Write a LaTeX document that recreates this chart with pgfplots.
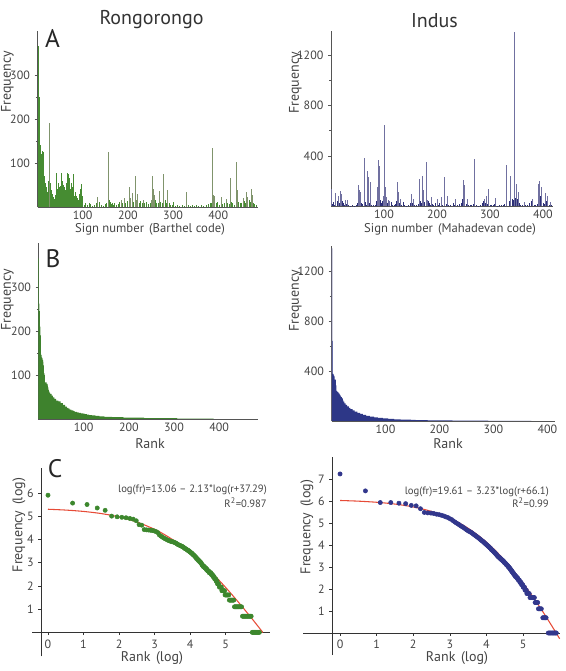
\documentclass[border=0pt]{standalone}
\usepackage{pgfplots}
\pgfplotsset{compat=1.18}
\usepackage{fontspec}
\setmainfont{PT Sans}
\definecolor{txtgray}{HTML}{444444}
\definecolor{titlegray}{HTML}{333333}
\definecolor{axisgray}{HTML}{555555}
\definecolor{axisdark}{HTML}{333333}
\definecolor{gbar}{RGB}{70,140,50}
\definecolor{obar}{RGB}{128,148,108}
\definecolor{nbar}{RGB}{45,48,120}
\definecolor{vbar}{RGB}{112,112,160}
\definecolor{gfill}{RGB}{62,130,45}
\definecolor{nfill}{RGB}{45,55,135}
\definecolor{gdot}{RGB}{60,135,45}
\definecolor{bdot}{RGB}{50,55,140}
\definecolor{fitred}{RGB}{230,75,55}
\newcommand{\lp}{\hspace{0.4em}(}
\newcommand{\rp}{)\hspace{0.4em}}
\pgfplotsset{
  panelAB/.style={
    scale only axis, anchor=south west,
    axis lines=left, axis line style={-, draw=axisgray, line width=0.6pt},
    tick align=outside, major tick length=2.2pt, minor tick length=1.3pt,
    ytick style={draw=axisgray, line width=0.5pt},
    xtick style={draw=none},
    minor y tick num=1,
    tick label style={font=\fontsize{9}{10}\selectfont, text=txtgray},
    xticklabel style={yshift=3pt},
    /pgf/number format/assume math mode=true,
    /pgf/number format/set thousands separator={},
    ymin=0, xtick={100,200,300,400},
  },
  panelC/.style={
    scale only axis, anchor=south west, clip=false,
    axis x line=middle, axis y line=left,
    axis line style={-, draw=axisdark, line width=0.6pt},
    tick align=outside, major tick length=2pt,
    tick style={draw=axisdark, line width=0.5pt},
    tick label style={font=\fontsize{9}{10}\selectfont, text=txtgray},
    /pgf/number format/assume math mode=true,
    xtick={0,1,2,3,4,5},
  },
}
\begin{document}
\begin{tikzpicture}[x=0.75pt,y=0.75pt]
\useasboundingbox (0,0) rectangle (566,671);

% ---------------- Panel A left (Rongorongo) ----------------
\begin{axis}[panelAB, at={(28.125pt,348pt)}, width=165.375pt, height=132pt,
  xmin=0, xmax=488, ymax=400, ytick={100,200,300}]
\addplot[ycomb, draw=gbar, line width=0.55pt, mark=none] coordinates {
(1,365)(2,300)(3,255)(4,250)(5,150)(6,135)(7,140)(8,120)(9,110)(10,128)
(11,95)(12,126)(13,60)(14,85)(15,40)(16,70)(17,55)(18,30)(19,45)(20,20)
(21,35)(22,15)(23,25)(24,60)(25,40)(27,30)(28,55)(29,35)(30,20)
(31,38)(32,25)(33,15)(34,30)(35,10)(36,22)(37,18)(38,12)(39,28)(40,20)
(41,45)(42,77)(43,30)(44,25)(45,40)(46,35)(47,55)(48,20)(49,45)(50,30)
(51,48)(52,25)(53,77)(54,60)(55,40)(56,35)(57,50)(58,20)(59,30)(60,45)
(61,25)(62,38)(63,55)(64,30)(65,40)(66,60)(67,77)(68,50)(69,75)(70,45)
(71,65)(72,30)(73,40)(74,55)(75,25)(76,35)(77,45)(78,20)(79,75)(80,30)
(81,25)(82,20)(83,35)(84,15)(85,25)(86,12)(87,18)(88,10)(89,20)(90,8)
(91,15)(92,30)(93,20)(94,40)(95,12)(96,35)(97,10)(98,52)(99,25)(100,8)
(103,5)(106,8)(110,4)(114,10)(118,6)(122,3)(126,5)(130,8)(137,12)(141,5)
(145,3)(150,6)(153,10)(158,15)(160,8)(162,12)(164,6)(166,10)(168,5)(171,8)
(174,4)(178,6)(182,12)(188,8)(195,10)(199,14)(212,12)(225,10)(228,14)(231,8)
(237,10)(241,12)(245,6)(249,8)(261,15)(264,10)(267,8)(273,12)(276,10)(282,15)
(285,8)(291,10)(295,5)(298,4)(301,12)(305,3)(310,4)(315,3)(320,5)(325,3)
(333,4)(338,3)(342,5)(347,3)(352,4)(357,3)(362,5)(368,3)(373,4)(378,6)
(382,8)(385,10)(395,8)(398,12)(402,5)(410,6)(413,10)(421,8)(424,6)(429,12)
(432,10)(435,5)(445,12)(448,8)(452,10)(458,14)(461,8)(468,15)(471,12)(478,10)
(481,6)(484,4)
};
\addplot[ycomb, draw=obar, line width=0.5pt, mark=none] coordinates {
(26,192)(133,22)(156,125)(185,15)(192,20)(203,45)(206,20)(209,32)(216,70)(219,15)
(222,30)(234,15)(252,15)(255,70)(257,42)(259,28)(270,37)(279,75)(288,38)(329,35)
(387,133)(390,28)(392,25)(406,22)(417,18)(426,67)(439,103)(442,38)(455,20)(463,33)
(465,22)(474,42)(476,27)
};
\end{axis}

% ---------------- Panel A right (Indus) ----------------
\begin{axis}[panelAB, at={(248.25pt,348.375pt)}, width=166.125pt, height=131.625pt,
  xmin=0, xmax=418, ymax=1390, ytick={400,800,1200}]
\addplot[ycomb, draw=nbar, line width=0.5pt, mark=none] coordinates {
(3,20)(5,35)(7,15)(11,40)(15,30)(21,45)(23,25)(25,10)(29,20)(33,8)
(36,5)(40,10)(44,6)(47,12)(49,26)(55,45)(58,30)(60,20)(64,38)(66,15)
(69,60)(73,28)(77,12)(80,8)(83,15)(86,40)(88,22)(93,50)(95,30)(97,40)
(100,70)(102,95)(105,45)(106,30)(109,20)(113,35)(116,15)(119,8)(122,20)(124,45)
(128,30)(130,20)(133,15)(136,34)(139,10)(142,6)(146,8)(149,25)(151,40)(154,30)
(158,12)(161,8)(164,20)(168,40)(170,30)(173,45)(177,38)(180,30)(183,40)(185,25)
(187,15)(191,20)(194,12)(197,30)(202,10)(205,25)(210,12)(213,30)(217,20)(222,15)
(226,8)(230,25)(233,10)(238,12)(242,20)(245,30)(248,60)(252,40)(255,20)(259,15)
(262,8)(265,10)(268,20)(274,12)(278,6)(282,10)(285,25)(288,40)(291,30)(295,20)
(300,15)(303,8)(306,10)(309,20)(314,6)(318,10)(322,15)(325,8)(328,20)(331,45)
(336,40)(338,30)(343,60)(345,50)(347,70)(351,60)(355,30)(358,15)(361,10)(367,8)
(371,10)(375,25)(378,40)(383,10)(386,8)(389,20)(391,40)(393,60)(395,80)(397,70)
(400,30)(403,20)(406,45)(409,25)(412,12)(415,8)
};
\addplot[ycomb, draw=vbar, line width=0.5pt, mark=none] coordinates {
(1,135)(9,106)(13,87)(17,122)(19,100)(27,55)(31,50)(51,167)(53,132)(56,114)
(62,381)(68,278)(70,233)(71,74)(75,193)(87,154)(89,366)(91,318)(99,87)(101,644)
(103,154)(104,74)(108,48)(111,42)(125,193)(127,114)(131,61)(152,100)(155,61)(166,215)
(172,241)(175,127)(179,352)(181,48)(189,74)(200,61)(208,74)(214,230)(219,87)(235,56)
(249,210)(252,172)(257,61)(270,375)(290,61)(293,87)(297,142)(311,69)(331,329)(339,241)
(346,1385)(349,180)(353,114)(364,34)(380,61)(392,180)(394,205)(396,154)(405,104)(408,87)
(413,34)
};
\end{axis}

% ---------------- Panel B left ----------------
\begin{axis}[panelAB, at={(28.875pt,189pt)}, width=164.625pt, height=132pt,
  xmin=0, xmax=486, ymax=400, ytick={100,200,300}]
\addplot[const plot, fill=gfill, draw=none, mark=none] coordinates {
(0,365)(1,262)(2,245)(3,210)(4,190)(5,148)(6,145)(7,140)(8,138)(9,134)
(10,130)(11,122)(12,104)(13,100)(14,83)(18,80)(20,76)(21,72)(22,66)(23,63)
(24,60)(26,57)(29,53)(32,49)(35,46)(39,42)(44,40)(49,36)(54,32)(59,28)
(63,25)(66,23.8)(69,21.5)(73,19.7)(77,18)(80,16.4)(85,15)(89,14)(94,13)(99,12)
(102,11)(107,10)(112,9)(118,8)(126,7)(135,6)(146,5)(163,4)(188,3)(234,2)
(307,1)(388,1)
} \closedcycle;
\end{axis}

% ---------------- Panel B right ----------------
\begin{axis}[panelAB, at={(248.625pt,187.5pt)}, width=167.625pt, height=131.25pt,
  xmin=0, xmax=414, ymax=1400, ytick={400,800,1200}]
\addplot[const plot, fill=vbar, draw=none, mark=none] coordinates {
(0,1380)(1.6,0)
} \closedcycle;
\addplot[const plot, fill=nfill, draw=none, mark=none] coordinates {
(1,640)(2,376)(4,365)(5,357)(6,330)(8,284)(9,240)(10,235)(12,228)
(13,221)(14,218)(15,211)(16,204)(17,196)(18,190)(19,181)(21,165)(22,155)(24,141)
(26,128)(29,116)(32,105)(35,95)(39,84)(43,74)(48,64)(53,56)(58,48)(64,40)
(71,34)(79,29)(86,24)(95,20)(105,16.8)(116,13.7)(128,11)(140,10)(147,9)(150,8)
(156,7)(164,6)(178,5)(204,4)(224,3)(250,2)(290,1)(370,1)
} \closedcycle;
\end{axis}

% ---------------- Panel C left ----------------
\begin{axis}[panelC, at={(30.75pt,11.025pt)}, width=171.75pt, height=141.225pt,
  xmin=-0.197, xmax=6.25, ymin=-1.03, ymax=7.07, ytick={1,2,3,4,5,6}]
\draw[axisdark, line width=0.6pt] (axis cs:-0.45,0) -- (axis cs:-0.197,0);
\addplot[only marks, mark=*, mark size=1.6pt, color=gdot] coordinates {
(0,5.90)(0.693,5.56)(1.099,5.50)(1.386,5.35)(1.609,5.25)(1.792,5.00)(1.946,4.97)(2.079,4.95)
(2.197,4.93)(2.303,4.90)(2.398,4.87)(2.485,4.80)(2.565,4.63)(2.639,4.61)(2.708,4.42)(2.773,4.41)
(2.833,4.40)(2.890,4.39)(2.944,4.38)(2.996,4.36)(3.045,4.33)(3.091,4.29)(3.135,4.19)(3.178,4.14)
(3.219,4.10)(3.258,4.06)(3.296,4.03)(3.332,4.00)(3.367,3.97)(3.401,3.95)(3.434,3.93)(3.466,3.91)
(3.497,3.90)(3.526,3.89)(3.555,3.87)(3.584,3.85)(3.611,3.83)(3.638,3.80)(3.664,3.77)(3.689,3.76)
(3.714,3.74)(3.738,3.72)(3.761,3.71)(3.784,3.69)(3.807,3.67)(3.829,3.64)(3.850,3.61)(3.871,3.60)
(3.892,3.58)(3.912,3.555)(3.932,3.526)(3.951,3.526)(3.970,3.497)(3.989,3.466)
(4.00,3.466)(4.02,3.434)(4.04,3.401)(4.055,3.401)(4.07,3.367)(4.09,3.332)(4.10,3.332)(4.12,3.296)
(4.14,3.258)(4.15,3.258)(4.165,3.219)(4.18,3.178)(4.195,3.178)(4.21,3.135)(4.22,3.135)(4.235,3.091)
(4.25,3.091)(4.265,3.045)(4.28,3.045)(4.295,2.996)(4.31,2.996)(4.325,2.944)(4.34,2.890)(4.355,2.890)
(4.37,2.833)(4.385,2.833)(4.40,2.833)(4.415,2.773)(4.43,2.773)(4.44,2.773)(4.455,2.708)(4.47,2.708)
(4.48,2.708)(4.495,2.639)(4.51,2.639)(4.525,2.639)(4.54,2.565)(4.555,2.565)(4.57,2.565)(4.585,2.565)
(4.60,2.485)(4.615,2.485)(4.63,2.485)(4.645,2.398)(4.66,2.398)(4.675,2.398)(4.69,2.303)(4.705,2.303)
(4.72,2.303)(4.735,2.197)(4.75,2.197)(4.76,2.197)(4.775,2.079)(4.79,2.079)(4.805,2.079)(4.825,1.946)
(4.845,1.946)(4.865,1.946)(4.88,1.946)(4.895,1.792)(4.915,1.792)(4.935,1.792)(4.955,1.792)(4.97,1.792)
(4.985,1.609)(5.005,1.609)(5.025,1.609)(5.045,1.609)(5.065,1.609)(5.09,1.609)(5.105,1.386)(5.13,1.386)
(5.155,1.386)(5.18,1.386)(5.205,1.386)(5.23,1.386)(5.25,1.099)(5.275,1.099)(5.30,1.099)(5.325,1.099)
(5.35,1.099)(5.375,1.099)(5.40,1.099)(5.425,1.099)(5.45,1.099)(5.475,0.693)(5.50,0.693)(5.525,0.693)
(5.55,0.693)(5.575,0.693)(5.60,0.693)(5.625,0.693)(5.65,0.693)(5.675,0.693)(5.70,0.693)(5.72,0.693)
(5.75,0)(5.775,0)(5.80,0)(5.825,0)(5.85,0)(5.875,0)(5.90,0)(5.925,0)(5.95,0)
};
\addplot[fitred, line width=0.8pt, mark=none, smooth] coordinates {
(0,5.296)(0.5,5.260)(1,5.202)(1.5,5.110)(2,4.967)(2.5,4.750)(3,4.434)(3.25,4.232)
(3.5,3.998)(3.75,3.731)(4,3.431)(4.25,3.099)(4.5,2.737)(4.75,2.347)(5,1.933)(5.25,1.497)
(5.5,1.043)(5.75,0.574)(5.9,0.286)(6.05,-0.006)
};
\end{axis}

% ---------------- Panel C right ----------------
\begin{axis}[panelC, at={(249pt,12pt)}, width=171pt, height=148.5pt,
  xmin=-0.22, xmax=6.01, ymin=-1.0, ymax=8.0, ytick={1,2,3,4,5,6,7}]
\draw[axisdark, line width=0.6pt] (axis cs:-1.0,0) -- (axis cs:-0.22,0);
\addplot[only marks, mark=*, mark size=1.6pt, color=bdot] coordinates {
(0,7.23)(0.693,6.46)(1.099,5.93)(1.386,5.93)(1.609,5.90)(1.792,5.88)(1.946,5.80)(2.079,5.78)
(2.197,5.65)(2.303,5.48)(2.398,5.46)(2.485,5.45)(2.565,5.43)(2.639,5.40)(2.708,5.38)(2.773,5.35)
(2.833,5.32)(2.890,5.28)(2.944,5.25)(2.996,5.20)(3.045,5.16)(3.091,5.10)(3.135,5.05)(3.178,5.00)
(3.219,4.96)(3.258,4.92)(3.296,4.87)(3.332,4.84)(3.367,4.80)(3.401,4.76)(3.434,4.72)(3.466,4.68)
(3.497,4.65)(3.526,4.62)(3.555,4.60)(3.584,4.57)(3.611,4.54)(3.638,4.50)(3.664,4.47)(3.689,4.44)
(3.714,4.41)(3.738,4.38)(3.761,4.35)(3.784,4.32)(3.807,4.29)(3.829,4.26)(3.850,4.23)(3.871,4.20)
(3.892,4.18)(3.912,4.15)(3.932,4.12)(3.951,4.09)(3.970,4.06)(3.989,4.03)(4.007,4.01)(4.025,3.98)
(4.043,3.95)(4.060,3.93)(4.078,3.90)(4.094,3.87)(4.111,3.85)(4.127,3.81)(4.143,3.78)(4.159,3.76)
(4.174,3.74)(4.190,3.71)(4.205,3.69)(4.220,3.66)(4.234,3.64)(4.248,3.61)(4.263,3.58)(4.277,3.56)
(4.29,3.526)(4.305,3.497)(4.32,3.466)(4.33,3.466)(4.345,3.434)(4.355,3.434)(4.365,3.401)(4.375,3.401)
(4.385,3.367)(4.40,3.367)(4.41,3.332)(4.42,3.332)(4.435,3.296)(4.45,3.296)(4.46,3.258)(4.47,3.258)
(4.48,3.219)(4.49,3.219)(4.50,3.178)(4.515,3.178)(4.53,3.135)(4.54,3.135)(4.55,3.091)(4.565,3.091)
(4.58,3.045)(4.59,3.045)(4.60,2.996)(4.615,2.996)(4.63,2.944)(4.64,2.944)(4.65,2.890)(4.665,2.890)
(4.68,2.833)(4.69,2.833)(4.70,2.773)(4.715,2.773)(4.73,2.708)(4.745,2.708)(4.76,2.639)(4.775,2.639)
(4.79,2.565)(4.805,2.565)(4.82,2.565)(4.835,2.485)(4.85,2.485)(4.86,2.485)(4.875,2.398)(4.89,2.398)
(4.90,2.398)(4.915,2.303)(4.93,2.303)(4.945,2.303)(4.96,2.197)(4.975,2.197)(4.99,2.197)(5.005,2.079)
(5.02,2.079)(5.04,2.079)(5.055,1.946)(5.07,1.946)(5.09,1.946)(5.105,1.792)(5.125,1.792)(5.15,1.792)
(5.17,1.792)(5.19,1.609)(5.215,1.609)(5.24,1.609)(5.265,1.609)(5.29,1.609)(5.31,1.609)(5.33,1.386)
(5.355,1.386)(5.38,1.386)(5.40,1.386)(5.42,1.099)(5.445,1.099)(5.47,1.099)(5.50,1.099)(5.54,0.693)
(5.565,0.693)(5.59,0.693)(5.615,0.693)(5.63,0.693)(5.69,0)(5.715,0)(5.74,0)(5.765,0)
(5.79,0)(5.815,0)(5.84,0)(5.865,0)(5.89,0)(5.91,0)
};
\addplot[fitred, line width=0.8pt, mark=none, smooth] coordinates {
(0,6.024)(0.5,5.993)(1,5.942)(1.5,5.861)(2,5.730)(2.5,5.526)(3,5.215)(3.2,5.053)
(3.4,4.865)(3.6,4.649)(3.8,4.404)(4,4.128)(4.2,3.819)(4.4,3.479)(4.6,3.107)(4.8,2.703)
(5,2.270)(5.2,1.809)(5.4,1.324)(5.6,0.816)(5.8,0.287)(6.0,-0.260)
};
\end{axis}

% ---------------- Text ----------------
\begin{scope}[every node/.style={inner sep=0pt, text=txtgray}]
\node[font=\fontsize{15}{17}\selectfont, text=titlegray] at (151.5,651) {Rongorongo};
\node[font=\fontsize{15}{17}\selectfont, text=titlegray] at (434.5,650) {Indus};
\node[font=\fontsize{19}{20}\selectfont, text=black!85] at (52.5,632) {A};
\node[font=\fontsize{19}{20}\selectfont, text=black!85] at (53,412) {B};
\node[font=\fontsize{19}{20}\selectfont, text=black!85] at (55,202) {C};
\node[font=\fontsize{10.5}{11}\selectfont, rotate=90] at (7.5,589) {Frequency};
\node[font=\fontsize{10.5}{11}\selectfont, rotate=90] at (295.5,588) {Frequency};
\node[font=\fontsize{10.5}{11}\selectfont, rotate=90] at (7.5,371) {Frequency};
\node[font=\fontsize{10.5}{11}\selectfont, rotate=90] at (295.5,370) {Frequency};
\node[font=\fontsize{10.5}{11}\selectfont, rotate=90] at (19,146) {Frequency\lp log\rp};
\node[font=\fontsize{10.5}{11}\selectfont, rotate=90] at (307,144) {Frequency\lp log\rp};
\node[font=\fontsize{9.5}{10}\selectfont] at (150,442) {Sign number\lp Barthel code\rp};
\node[font=\fontsize{9.5}{10}\selectfont] at (450,442) {Sign number\lp Mahadevan code\rp};
\node[font=\fontsize{10.5}{11}\selectfont] at (150,227) {Rank};
\node[font=\fontsize{10.5}{11}\selectfont] at (448,227) {Rank};
\node[font=\fontsize{10.5}{11}\selectfont] at (152,13) {Rank\lp log\rp};
\node[font=\fontsize{10.5}{11}\selectfont] at (457,13) {Rank\lp log\rp};
\node[font=\fontsize{8}{9}\selectfont, anchor=east] at (267,181) {log(fr)=13.06 -- 2.13*log(r+37.29)};
\node[font=\fontsize{8}{9}\selectfont, anchor=east] at (267,168) {R\textsuperscript{2}=0.987};
\node[font=\fontsize{8}{9}\selectfont, anchor=east] at (549,179) {log(fr)=19.61 -- 3.23*log(r+66.1)};
\node[font=\fontsize{8}{9}\selectfont, anchor=east] at (549,168) {R\textsuperscript{2}=0.99};
\end{scope}
\end{tikzpicture}
\end{document}
